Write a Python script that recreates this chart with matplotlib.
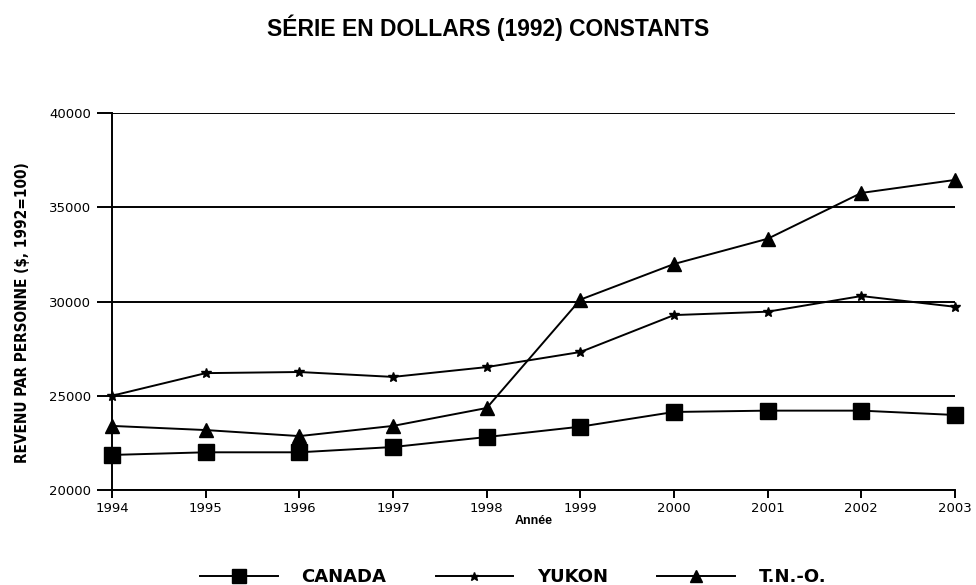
import numpy as np
import matplotlib.pyplot as plt

plt.rcParams['font.family'] = ['Liberation Sans', 'DejaVu Sans']

years = [1994, 1995, 1996, 1997, 1998, 1999, 2000, 2001, 2002, 2003]
canada = [21860, 22000, 22000, 22280, 22810, 23360, 24140, 24210, 24210, 23980]
yukon = [25000, 26200, 26260, 26000, 26520, 27320, 29280, 29460, 30290, 29720]
tno = [23400, 23180, 22860, 23400, 24350, 30100, 31990, 33330, 35760, 36450]
y_ticks = [20000, 25000, 30000, 35000, 40000]

fig = plt.figure(figsize=(9.76, 5.85), dpi=100)
ax = fig.add_axes([0.1148, 0.1624, 0.8637, 0.6444])

ax.plot(years, canada, color='black', lw=1.4, marker='s', ms=11, label='CANADA', clip_on=False)
ax.plot(years, yukon, color='black', lw=1.4, marker='*', ms=7, label='YUKON', clip_on=False)
ax.plot(years, tno, color='black', lw=1.4, marker='^', ms=9.5, label='T.N.-O.', clip_on=False)

ax.set_xlim(1994, 2003)
ax.set_ylim(20000, 40000)
ax.set_yticks(y_ticks)
ax.set_yticklabels([str(v) for v in y_ticks])
ax.set_xticks(years)
ax.set_xticklabels([str(y) for y in years])
ax.yaxis.grid(True, color='black', lw=1.4)
ax.set_axisbelow(True)
for s in ['top', 'right']:
    ax.spines[s].set_visible(False)
for s in ['left', 'bottom']:
    ax.spines[s].set_linewidth(1.4)
ax.tick_params(axis='y', direction='out', length=11, width=1.4, pad=4)
ax.tick_params(axis='x', direction='out', length=6, width=1.4, pad=3)
for lab in ax.get_xticklabels() + ax.get_yticklabels():
    lab.set_family('DejaVu Sans')
    lab.set_fontsize(9.5)

ax.set_xlabel('Année', fontsize=9, fontweight='bold', labelpad=0)
ax.set_ylabel('REVENU PAR PERSONNE ($, 1992=100)', fontsize=11, fontweight='bold',
              family='DejaVu Sans', fontstretch='condensed', labelpad=13)
ax.yaxis.set_label_coords(-0.097, 0.47)

fig.text(0.5, 0.952, 'SÉRIE EN DOLLARS (1992) CONSTANTS', ha='center', va='center',
         fontsize=16.5, fontweight='bold', family='Liberation Sans')

# legend at the bottom, partly cut off like the original
leg = fig.legend(loc='center left', bbox_to_anchor=(0.19, 0.0137), ncol=3, frameon=False,
                 handlelength=4.3, columnspacing=2.75, handletextpad=1.3, borderpad=0.3,
                 markerscale=0.9,
                 prop={'size': 13, 'weight': 'bold', 'family': 'DejaVu Sans'})

fig.savefig('out.png', dpi=100)
